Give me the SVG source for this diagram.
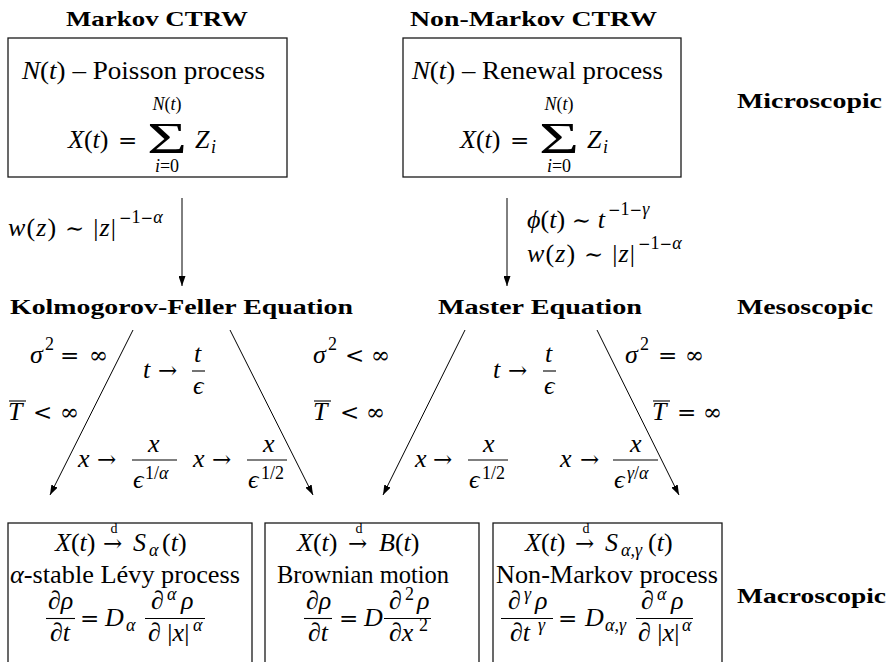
<svg xmlns="http://www.w3.org/2000/svg" width="890" height="662" viewBox="0 0 890 662">
<style>
text{font-family:"Liberation Serif","DejaVu Serif",serif;font-size:26px;fill:#000}
.h{font-weight:bold;font-size:21px}
.i{font-style:italic}
.s{font-size:18px}
.d{font-size:14px}
.y{font-family:"DejaVu Serif","Liberation Serif",serif;font-size:23px}
.m{font-family:"DejaVu Serif","Liberation Serif",serif;font-size:15px}
.box{fill:none;stroke:#1a1a1a;stroke-width:1.3}
.bar{stroke:#000;stroke-width:1.1}
.cn line{stroke:#000;stroke-width:1;marker-end:url(#ah)}
</style>
<defs>
<marker id="ah" markerUnits="userSpaceOnUse" markerWidth="10" markerHeight="7" refX="10" refY="3.5" orient="auto"><path d="M0,0 L10,3.5 L0,7 z" fill="#000"/></marker>
</defs>

<!-- Top: Markov CTRW -->
<g id="markov-ctrw">
<text class="h" x="66" y="26" textLength="182" lengthAdjust="spacingAndGlyphs">Markov CTRW</text>
<rect class="box" x="8" y="38" width="279" height="139"/>
<text x="22" y="79" textLength="243" lengthAdjust="spacingAndGlyphs"><tspan class="i">N</tspan>(<tspan class="i">t</tspan>) – Poisson process</text>
<text x="68" y="148"><tspan class="i">X</tspan>(<tspan class="i">t</tspan>)</text>
<text class="y" x="118" y="148">=</text>
<text x="147" y="153" style="font-size:44px" textLength="40" lengthAdjust="spacingAndGlyphs">Σ</text>
<text class="s" x="167" y="110" text-anchor="middle"><tspan class="i">N</tspan>(<tspan class="i">t</tspan>)</text>
<text class="s" x="167" y="172" text-anchor="middle"><tspan class="i">i</tspan>=0</text>
<text class="i" x="195" y="148">Z</text>
<text class="s i" x="211" y="153">i</text>
</g>

<!-- Top: Non-Markov CTRW -->
<g id="non-markov-ctrw">
<text class="h" x="410" y="26" textLength="247" lengthAdjust="spacingAndGlyphs">Non-Markov CTRW</text>
<rect class="box" x="403" y="38" width="278" height="139"/>
<text x="412" y="79" textLength="251" lengthAdjust="spacingAndGlyphs"><tspan class="i">N</tspan>(<tspan class="i">t</tspan>) – Renewal process</text>
<text x="460" y="148"><tspan class="i">X</tspan>(<tspan class="i">t</tspan>)</text>
<text class="y" x="510" y="148">=</text>
<text x="539" y="153" style="font-size:44px" textLength="40" lengthAdjust="spacingAndGlyphs">Σ</text>
<text class="s" x="559" y="110" text-anchor="middle"><tspan class="i">N</tspan>(<tspan class="i">t</tspan>)</text>
<text class="s" x="559" y="172" text-anchor="middle"><tspan class="i">i</tspan>=0</text>
<text class="i" x="587" y="148">Z</text>
<text class="s i" x="603" y="153">i</text>
</g>

<g id="microscopic"><text class="h" x="737" y="108" textLength="145" lengthAdjust="spacingAndGlyphs">Microscopic</text></g>

<!-- Mesoscopic level -->
<g id="kolmogorov-feller"><text class="h" x="10" y="314" textLength="343" lengthAdjust="spacingAndGlyphs">Kolmogorov-Feller Equation</text></g>
<g id="master-equation"><text class="h" x="438" y="314" textLength="204" lengthAdjust="spacingAndGlyphs">Master Equation</text></g>
<g id="mesoscopic"><text class="h" x="737" y="314" textLength="136" lengthAdjust="spacingAndGlyphs">Mesoscopic</text></g>

<!-- Bottom box 1 -->
<g id="levy">
<rect class="box" x="8" y="523" width="244" height="150"/>
<text x="55" y="551"><tspan class="i">X</tspan>(<tspan class="i">t</tspan>)</text>
<text class="y" x="103" y="551">→</text>
<text class="d" x="114" y="533" text-anchor="middle">d</text>
<text class="i" x="133" y="551">S</text>
<text class="s i" x="149" y="556">α</text>
<text x="162" y="551">(<tspan class="i">t</tspan>)</text>
<text x="10" y="583" textLength="230" lengthAdjust="spacingAndGlyphs"><tspan class="i">α</tspan>-stable Lévy process</text>
<text class="i" x="48" y="609">∂ρ</text>
<line class="bar" x1="46" y1="618.5" x2="75" y2="618.5"/>
<text class="i" x="50" y="641">∂t</text>
<text class="y" x="80" y="626">=</text>
<text class="i" x="105" y="626">D</text>
<text class="s i" x="126" y="631">α</text>
<text class="i" x="151" y="609">∂</text>
<text class="s i" x="167" y="600">α</text>
<text class="i" x="181" y="609">ρ</text>
<line class="bar" x1="145" y1="618.5" x2="205" y2="618.5"/>
<text x="148" y="641"><tspan class="i">∂</tspan> |<tspan class="i">x</tspan>|</text>
<text class="s i" x="193" y="631">α</text>
</g>

<!-- Bottom box 2 -->
<g id="brownian">
<rect class="box" x="265" y="523" width="214" height="150"/>
<text x="297" y="551"><tspan class="i">X</tspan>(<tspan class="i">t</tspan>)</text>
<text class="y" x="348" y="551">→</text>
<text class="d" x="359" y="533" text-anchor="middle">d</text>
<text x="379" y="551"><tspan class="i">B</tspan>(<tspan class="i">t</tspan>)</text>
<text x="277" y="583" textLength="172" lengthAdjust="spacingAndGlyphs">Brownian motion</text>
<text class="i" x="306" y="609">∂ρ</text>
<line class="bar" x1="304" y1="618.5" x2="332" y2="618.5"/>
<text class="i" x="308" y="641">∂t</text>
<text class="y" x="339" y="626">=</text>
<text class="i" x="364" y="626">D</text>
<text class="i" x="389" y="609">∂</text>
<text class="s" x="405" y="600">2</text>
<text class="i" x="417" y="609">ρ</text>
<line class="bar" x1="384" y1="618.5" x2="431" y2="618.5"/>
<text class="i" x="389" y="641">∂x</text>
<text class="s" x="419" y="631">2</text>
</g>

<!-- Bottom box 3 -->
<g id="non-markov-process">
<rect class="box" x="493" y="523" width="229" height="150"/>
<text x="525" y="551"><tspan class="i">X</tspan>(<tspan class="i">t</tspan>)</text>
<text class="y" x="575" y="551">→</text>
<text class="d" x="586" y="533" text-anchor="middle">d</text>
<text class="i" x="605" y="551">S</text>
<text class="s i" x="621" y="556">α,γ</text>
<text x="648" y="551">(<tspan class="i">t</tspan>)</text>
<text x="496" y="583" textLength="222" lengthAdjust="spacingAndGlyphs">Non-Markov process</text>
<text class="i" x="508" y="609">∂</text>
<text class="s i" x="524" y="600">γ</text>
<text class="i" x="535" y="609">ρ</text>
<line class="bar" x1="501" y1="618.5" x2="553" y2="618.5"/>
<text class="i" x="510" y="641">∂t</text>
<text class="s i" x="538" y="631">γ</text>
<text class="y" x="558" y="626">=</text>
<text class="i" x="585" y="626">D</text>
<text class="s i" x="605" y="631">α,γ</text>
<text class="i" x="641" y="609">∂</text>
<text class="s i" x="657" y="600">α</text>
<text class="i" x="671" y="609">ρ</text>
<line class="bar" x1="636" y1="618.5" x2="693" y2="618.5"/>
<text x="638" y="641"><tspan class="i">∂</tspan> |<tspan class="i">x</tspan>|</text>
<text class="s i" x="682" y="631">α</text>
</g>

<g id="macroscopic"><text class="h" x="737" y="603" textLength="149" lengthAdjust="spacingAndGlyphs">Macroscopic</text></g>

<!-- Connectors -->
<g id="connectors" class="cn">
<line x1="182" y1="198" x2="182" y2="286"/>
<line x1="507" y1="198" x2="507" y2="286"/>
<line x1="133" y1="330" x2="50" y2="495"/>
<line x1="230" y1="330" x2="313" y2="495"/>
<line x1="465" y1="330" x2="383" y2="495"/>
<line x1="597" y1="330" x2="679" y2="495"/>
</g>

<!-- Connector labels -->
<g id="labels">
<text x="8" y="236" textLength="108"><tspan class="i">w</tspan>(<tspan class="i">z</tspan>) <tspan class="y">∼</tspan> |<tspan class="i">z</tspan>|</text>
<text class="s" x="119" y="223"><tspan class="m">−</tspan>1<tspan class="m">−</tspan><tspan class="i">α</tspan></text>

<text x="527" y="228" textLength="78"><tspan class="i">ϕ</tspan>(<tspan class="i">t</tspan>) <tspan class="y">∼</tspan> <tspan class="i">t</tspan></text>
<text class="s" x="608" y="215"><tspan class="m">−</tspan>1<tspan class="m">−</tspan><tspan class="i">γ</tspan></text>
<text x="527" y="262" textLength="108"><tspan class="i">w</tspan>(<tspan class="i">z</tspan>) <tspan class="y">∼</tspan> |<tspan class="i">z</tspan>|</text>
<text class="s" x="638" y="249"><tspan class="m">−</tspan>1<tspan class="m">−</tspan><tspan class="i">α</tspan></text>

<!-- left arrow conditions -->
<text class="i" x="30" y="363">σ</text><text class="s" x="45" y="350">2</text>
<text class="y" x="60" y="363">=</text><text class="y" x="89" y="363">∞</text>
<text class="i" x="8" y="420">T</text><line class="bar" x1="9" y1="401" x2="26" y2="401"/>
<text class="y" x="33" y="420">&lt;</text><text class="y" x="60" y="420">∞</text>

<text class="i" x="143" y="378">t</text><text class="y" x="158" y="378">→</text>
<text class="i" x="194" y="362">t</text><line class="bar" x1="192" y1="371" x2="205" y2="371"/><text class="i" x="193" y="394">ϵ</text>

<text class="i" x="78" y="467">x</text><text class="y" x="97" y="467">→</text>
<text class="i" x="148" y="452">x</text><line class="bar" x1="132" y1="460" x2="177" y2="460"/>
<text class="i" x="133" y="488">ϵ</text><text class="s" x="145" y="479">1/<tspan class="i">α</tspan></text>

<text class="i" x="193" y="467">x</text><text class="y" x="212" y="467">→</text>
<text class="i" x="263" y="452">x</text><line class="bar" x1="247" y1="460" x2="287" y2="460"/>
<text class="i" x="248" y="488">ϵ</text><text class="s" x="261" y="479">1/2</text>

<!-- middle conditions -->
<text class="i" x="313" y="363">σ</text><text class="s" x="328" y="350">2</text>
<text class="y" x="345" y="363">&lt;</text><text class="y" x="371" y="363">∞</text>
<text class="i" x="313" y="420">T</text><line class="bar" x1="314" y1="401" x2="331" y2="401"/>
<text class="y" x="340" y="420">&lt;</text><text class="y" x="366" y="420">∞</text>

<text class="i" x="493" y="378">t</text><text class="y" x="508" y="378">→</text>
<text class="i" x="545" y="362">t</text><line class="bar" x1="543" y1="371" x2="556" y2="371"/><text class="i" x="544" y="394">ϵ</text>

<text class="i" x="415" y="467">x</text><text class="y" x="433" y="467">→</text>
<text class="i" x="483" y="452">x</text><line class="bar" x1="468" y1="460" x2="508" y2="460"/>
<text class="i" x="469" y="488">ϵ</text><text class="s" x="482" y="479">1/2</text>

<text class="i" x="560" y="467">x</text><text class="y" x="580" y="467">→</text>
<text class="i" x="630" y="452">x</text><line class="bar" x1="613" y1="460" x2="658" y2="460"/>
<text class="i" x="614" y="488">ϵ</text><text class="s" x="627" y="479"><tspan class="i">γ</tspan>/<tspan class="i">α</tspan></text>

<!-- right conditions -->
<text class="i" x="625" y="363">σ</text><text class="s" x="640" y="350">2</text>
<text class="y" x="658" y="363">=</text><text class="y" x="685" y="363">∞</text>
<text class="i" x="652" y="420">T</text><line class="bar" x1="653" y1="401" x2="670" y2="401"/>
<text class="y" x="677" y="420">=</text><text class="y" x="703" y="420">∞</text>
</g>
</svg>
